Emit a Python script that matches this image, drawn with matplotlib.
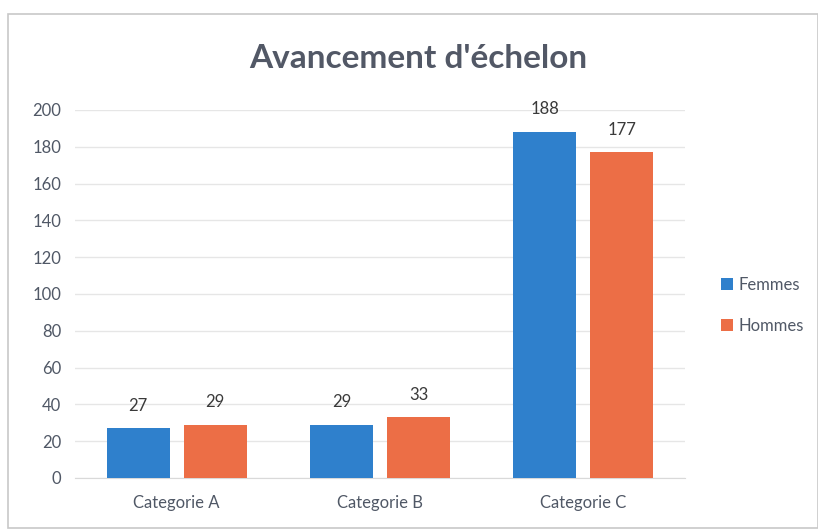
import matplotlib.pyplot as plt
import matplotlib.patches as mpatches
import numpy as np

plt.rcParams['font.family'] = ['Lato', 'DejaVu Sans']

categories = ['Categorie A', 'Categorie B', 'Categorie C']
femmes = [27, 29, 188]
hommes = [29, 33, 177]
series_names = ['Femmes', 'Hommes']

blue = '#2F80CC'
orange = '#EC6E46'
text_gray = '#505866'

fig = plt.figure(figsize=(8.18, 5.31), dpi=100)
fig.patch.set_facecolor('white')
# cadre du graphique
fig.add_artist(mpatches.Rectangle((8 / 818, 0.005), 0.99, 1 - 14 / 531 - 0.005,
                                  transform=fig.transFigure, fill=False,
                                  edgecolor='#c8c8c8', linewidth=1.2))

ax = fig.add_axes([75 / 818, 53 / 531, 610 / 818, 368 / 531])

x = np.arange(len(categories))
largeur = 0.31
decal = 0.19

b1 = ax.bar(x - decal, femmes, largeur, color=blue, label=series_names[0], zorder=3)
b2 = ax.bar(x + decal, hommes, largeur, color=orange, label=series_names[1], zorder=3)

for barres in (b1, b2):
    for b in barres:
        ax.text(b.get_x() + b.get_width() / 2, b.get_height() + 8, f'{int(b.get_height())}',
                ha='center', va='bottom', fontsize=12, color='#3a3a3a', clip_on=False)

ax.set_xlim(-0.5, 2.5)
ax.set_ylim(0, 200)
ax.set_yticks(range(0, 201, 20))
ax.set_xticks(x)
ax.set_xticklabels(categories, fontsize=12, color=text_gray)
ax.tick_params(axis='y', labelsize=12, labelcolor=text_gray, length=0, pad=10)
ax.tick_params(axis='x', length=0, pad=12)
ax.grid(axis='y', color='#e6e6e6', linewidth=1, zorder=0)
for s in ['top', 'right', 'left']:
    ax.spines[s].set_visible(False)
ax.spines['bottom'].set_color('#d9d9d9')

fig.text(418 / 818, 1 - 58 / 531, "Avancement d'échelon", ha='center', va='center',
         fontsize=24, fontweight='bold', color='#525866')

ax.legend(loc='center left', bbox_to_anchor=(1.035, 0.47), frameon=False,
          fontsize=12, labelcolor=text_gray, handlelength=0.7, handleheight=0.7,
          handletextpad=0.3, labelspacing=1.5)

plt.savefig('out.png', dpi=100)
